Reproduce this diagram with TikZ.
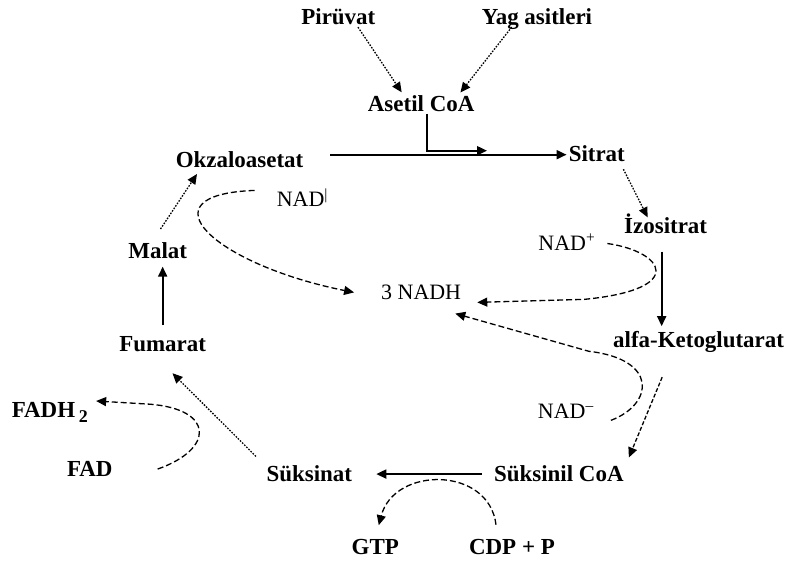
\documentclass[tikz,border=0pt]{standalone}
\usepackage{fontspec}
\setmainfont{Liberation Serif}
\usetikzlibrary{arrows.meta}

\begin{document}
\begin{tikzpicture}[x=1pt, y=-1pt, >={Triangle[length=10pt,width=9pt]}]
    \tikzstyle{every node}=[text height=14pt, text depth=0pt, inner sep=2pt]
    \tikzstyle{compound}=[font=\fontsize{23}{25}\selectfont\bfseries]
    \tikzstyle{cofactor}=[font=\fontsize{22}{24}\selectfont]
    \tikzstyle{step arrow}=[->, line width=1.8pt]
    \tikzstyle{step dashed}=[->, line width=1.3pt, dash pattern=on 4pt off 2pt]
    \tikzstyle{dotted arrow}=[->, line width=1.3pt, dash pattern=on 1.6pt off 1.4pt]
    \tikzstyle{cofactor arrow}=[->, line width=1.3pt, dash pattern=on 6pt off 3pt]

    \fill[white] (0,0) rectangle (786,567);

    % Draw the compounds of the cycle
    \node[compound] (piruvat) at (339,18) {Pirüvat};
    \node[compound] (yag) at (538,18) {Yag asitleri};
    \node[compound] (asetil) at (422,105) {Asetil CoA};
    \node[compound] (okzalo) at (240,161) {Okzaloasetat};
    \node[compound] (sitrat) at (598,155) {Sitrat};
    \node[compound] (izositrat) at (667,227) {İzositrat};
    \node[compound] (alfa) at (700,341) {alfa-Ketoglutarat};
    \node[compound] (suksinilcoa) at (560,475) {Süksinil CoA};
    \node[compound] (suksinat) at (310,475) {Süksinat};
    \node[compound] (fumarat) at (163,345) {Fumarat};
    \node[compound] (malat) at (158,252) {Malat};
    \node[compound] (fadh) at (50,411) {FADH\,\raisebox{-5pt}{\fontsize{18}{18}\selectfont 2}};
    \node[compound] (fad) at (90,470) {FAD};
    \node[compound] (gtp) at (376,549) {GTP};
    \node[compound] (cdp) at (513,549) {CDP + P};

    % Draw the cofactors
    \node[cofactor] (nadI) at (303,200) {NAD\textsuperscript{|}};
    \node[cofactor] (nadplus) at (568,244) {NAD\textsuperscript{+}};
    \node[cofactor] (nadminus) at (567,412) {NAD\textsuperscript{--}};
    \node[cofactor] (nadh) at (422,293) {3 NADH};

    % Feed into acetyl CoA
    \draw[dotted arrow, shorten >=4pt] (piruvat.-25) -- (asetil.152);
    \draw[dotted arrow, shorten >=4pt] (yag.200) -- (asetil.14);
    \coordinate (join) at (488,151);
    \draw[step arrow] ([xshift=6pt]asetil.south) |- (join);

    % Steps around the cycle
    \draw[step arrow, shorten <=25pt] (okzalo.east |- sitrat.west) -- (sitrat.west);
    \draw[dotted arrow, shorten <=6pt] (sitrat.-21) -- (izositrat.153);
    \draw[step arrow, shorten <=16pt, shorten >=5pt] ([xshift=-4pt]izositrat.south) -- ([xshift=-4pt]izositrat.south |- alfa.north);
    \draw[step dashed, shorten <=30pt, shorten >=8pt] ([xshift=-25pt]alfa.south) -- (suksinilcoa.north east);
    \draw[step arrow, shorten <=10pt, shorten >=22pt] (suksinilcoa) -- (suksinat);
    \draw[dotted arrow, shorten <=12pt, shorten >=28pt] (suksinat.north west) -- ([xshift=-10pt]fumarat.south);
    \draw[step arrow, shorten <=10pt, shorten >=6pt] (fumarat.north) -- (fumarat.north |- malat.south);
    \draw[dotted arrow, shorten <=16pt, shorten >=5pt] ([xshift=-6pt]malat.north) -- (okzalo.193);

    % Cofactor curves
    \draw[cofactor arrow] ([xshift=-20pt]nadI.north west) .. controls (140,195) and (215,265) .. ([xshift=-25pt]nadh.west);
    \draw[cofactor arrow] ([xshift=10pt]nadplus.east) .. controls (665,252) and (690,290) .. (585,300) -- ([shift={(14pt,-10pt)}]nadh.east);
    \draw[cofactor arrow] ([xshift=15pt]nadminus.south east) .. controls (655,405) and (660,360) .. (590,352) -- ([shift={(-8pt,-12pt)}]nadh.south east);
    \draw[cofactor arrow] ([xshift=43pt]fad.east) .. controls (215,450) and (215,410) .. (150,405) -- ([xshift=6pt]fadh.north east);
    \draw[cofactor arrow, shorten >=14pt] ([xshift=-16pt, yshift=14pt]cdp.north) .. controls (490,467) and (395,467) .. (gtp.north);
\end{tikzpicture}
\end{document}
